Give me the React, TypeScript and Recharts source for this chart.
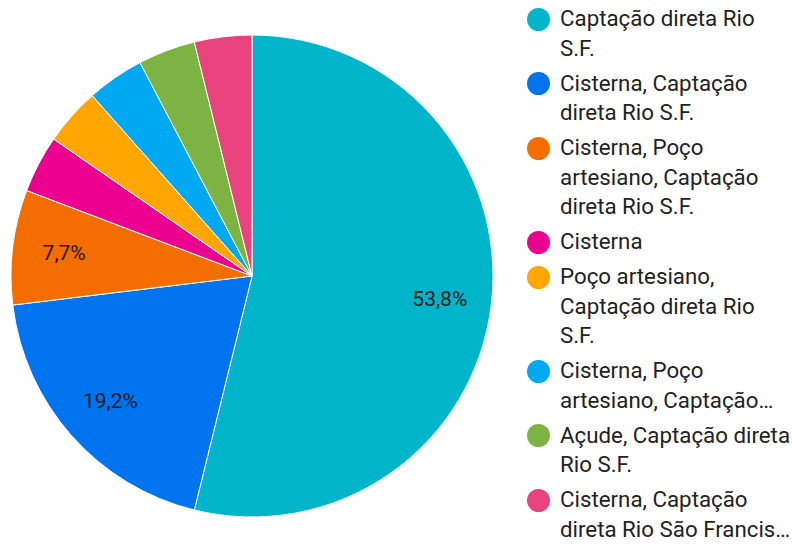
import { PieChart, Pie, Cell, Legend } from "recharts"

// respostas por fonte de água (26 no total)
const NAMES = [
  "Captação direta Rio\nS.F.",
  "Cisterna, Captação\ndireta Rio S.F.",
  "Cisterna, Poço\nartesiano, Captação\ndireta Rio S.F.",
  "Cisterna",
  "Poço artesiano,\nCaptação direta Rio\nS.F.",
  "Cisterna, Poço\nartesiano, Captação…",
  "Açude, Captação direta\nRio S.F.",
  "Cisterna, Captação\ndireta Rio São Francis…",
]
const VALUES = [14, 5, 2, 1, 1, 1, 1, 1]
const COLORS = ["#00B5CA", "#0073EF", "#F46D00", "#EC008F", "#FFA600", "#00A9F2", "#7CB342", "#E8437C"]

const data = NAMES.map((name, i) => ({ name, value: VALUES[i] }))

const RAD = Math.PI / 180
const FONT = "Roboto, 'Noto Sans', sans-serif"

function renderLabel(props: any) {
  const { cx, cy, midAngle, outerRadius, percent } = props
  if (percent < 0.05) return null
  const r = outerRadius * 0.785
  const x = cx + r * Math.cos(-midAngle * RAD)
  const y = cy + r * Math.sin(-midAngle * RAD)
  return (
    <text
      x={x}
      y={y}
      fill="#1a1a1a"
      fontSize={21}
      fontFamily={FONT}
      textAnchor="middle"
      dominantBaseline="central"
    >
      {(percent * 100).toFixed(1).replace(".", ",")}%
    </text>
  )
}

function renderLegend() {
  return (
    <div style={{ fontFamily: FONT, fontSize: 22.3, color: "#222", lineHeight: "29.5px" }}>
      {data.map((d, i) => (
        <div key={i} style={{ display: "flex", alignItems: "flex-start", marginBottom: 5.5 }}>
          <span
            style={{
              width: 23,
              height: 23,
              borderRadius: "50%",
              background: COLORS[i],
              marginTop: 3.5,
              marginRight: 10,
              flexShrink: 0,
            }}
          />
          <span style={{ whiteSpace: "pre" }}>{d.name}</span>
        </div>
      ))}
    </div>
  )
}

export default function App() {
  return (
    <>
      <style>{`body{margin:0;background:#fff}`}</style>
      <PieChart width={792} height={545} margin={{ top: 0, right: 0, bottom: 0, left: 0 }}>
        <Pie
          data={data}
          dataKey="value"
          nameKey="name"
          cx={252}
          cy={276}
          outerRadius={241}
          startAngle={90}
          endAngle={-270}
          stroke="#fff"
          strokeWidth={1}
          label={renderLabel}
          labelLine={false}
          isAnimationActive={false}
        >
          {data.map((_, i) => (
            <Cell key={i} fill={COLORS[i]} />
          ))}
        </Pie>
        <Legend
          layout="vertical"
          align="right"
          verticalAlign="top"
          content={renderLegend}
          wrapperStyle={{ left: 527, top: 4, width: 265, right: "auto" }}
        />
      </PieChart>
    </>
  )
}
